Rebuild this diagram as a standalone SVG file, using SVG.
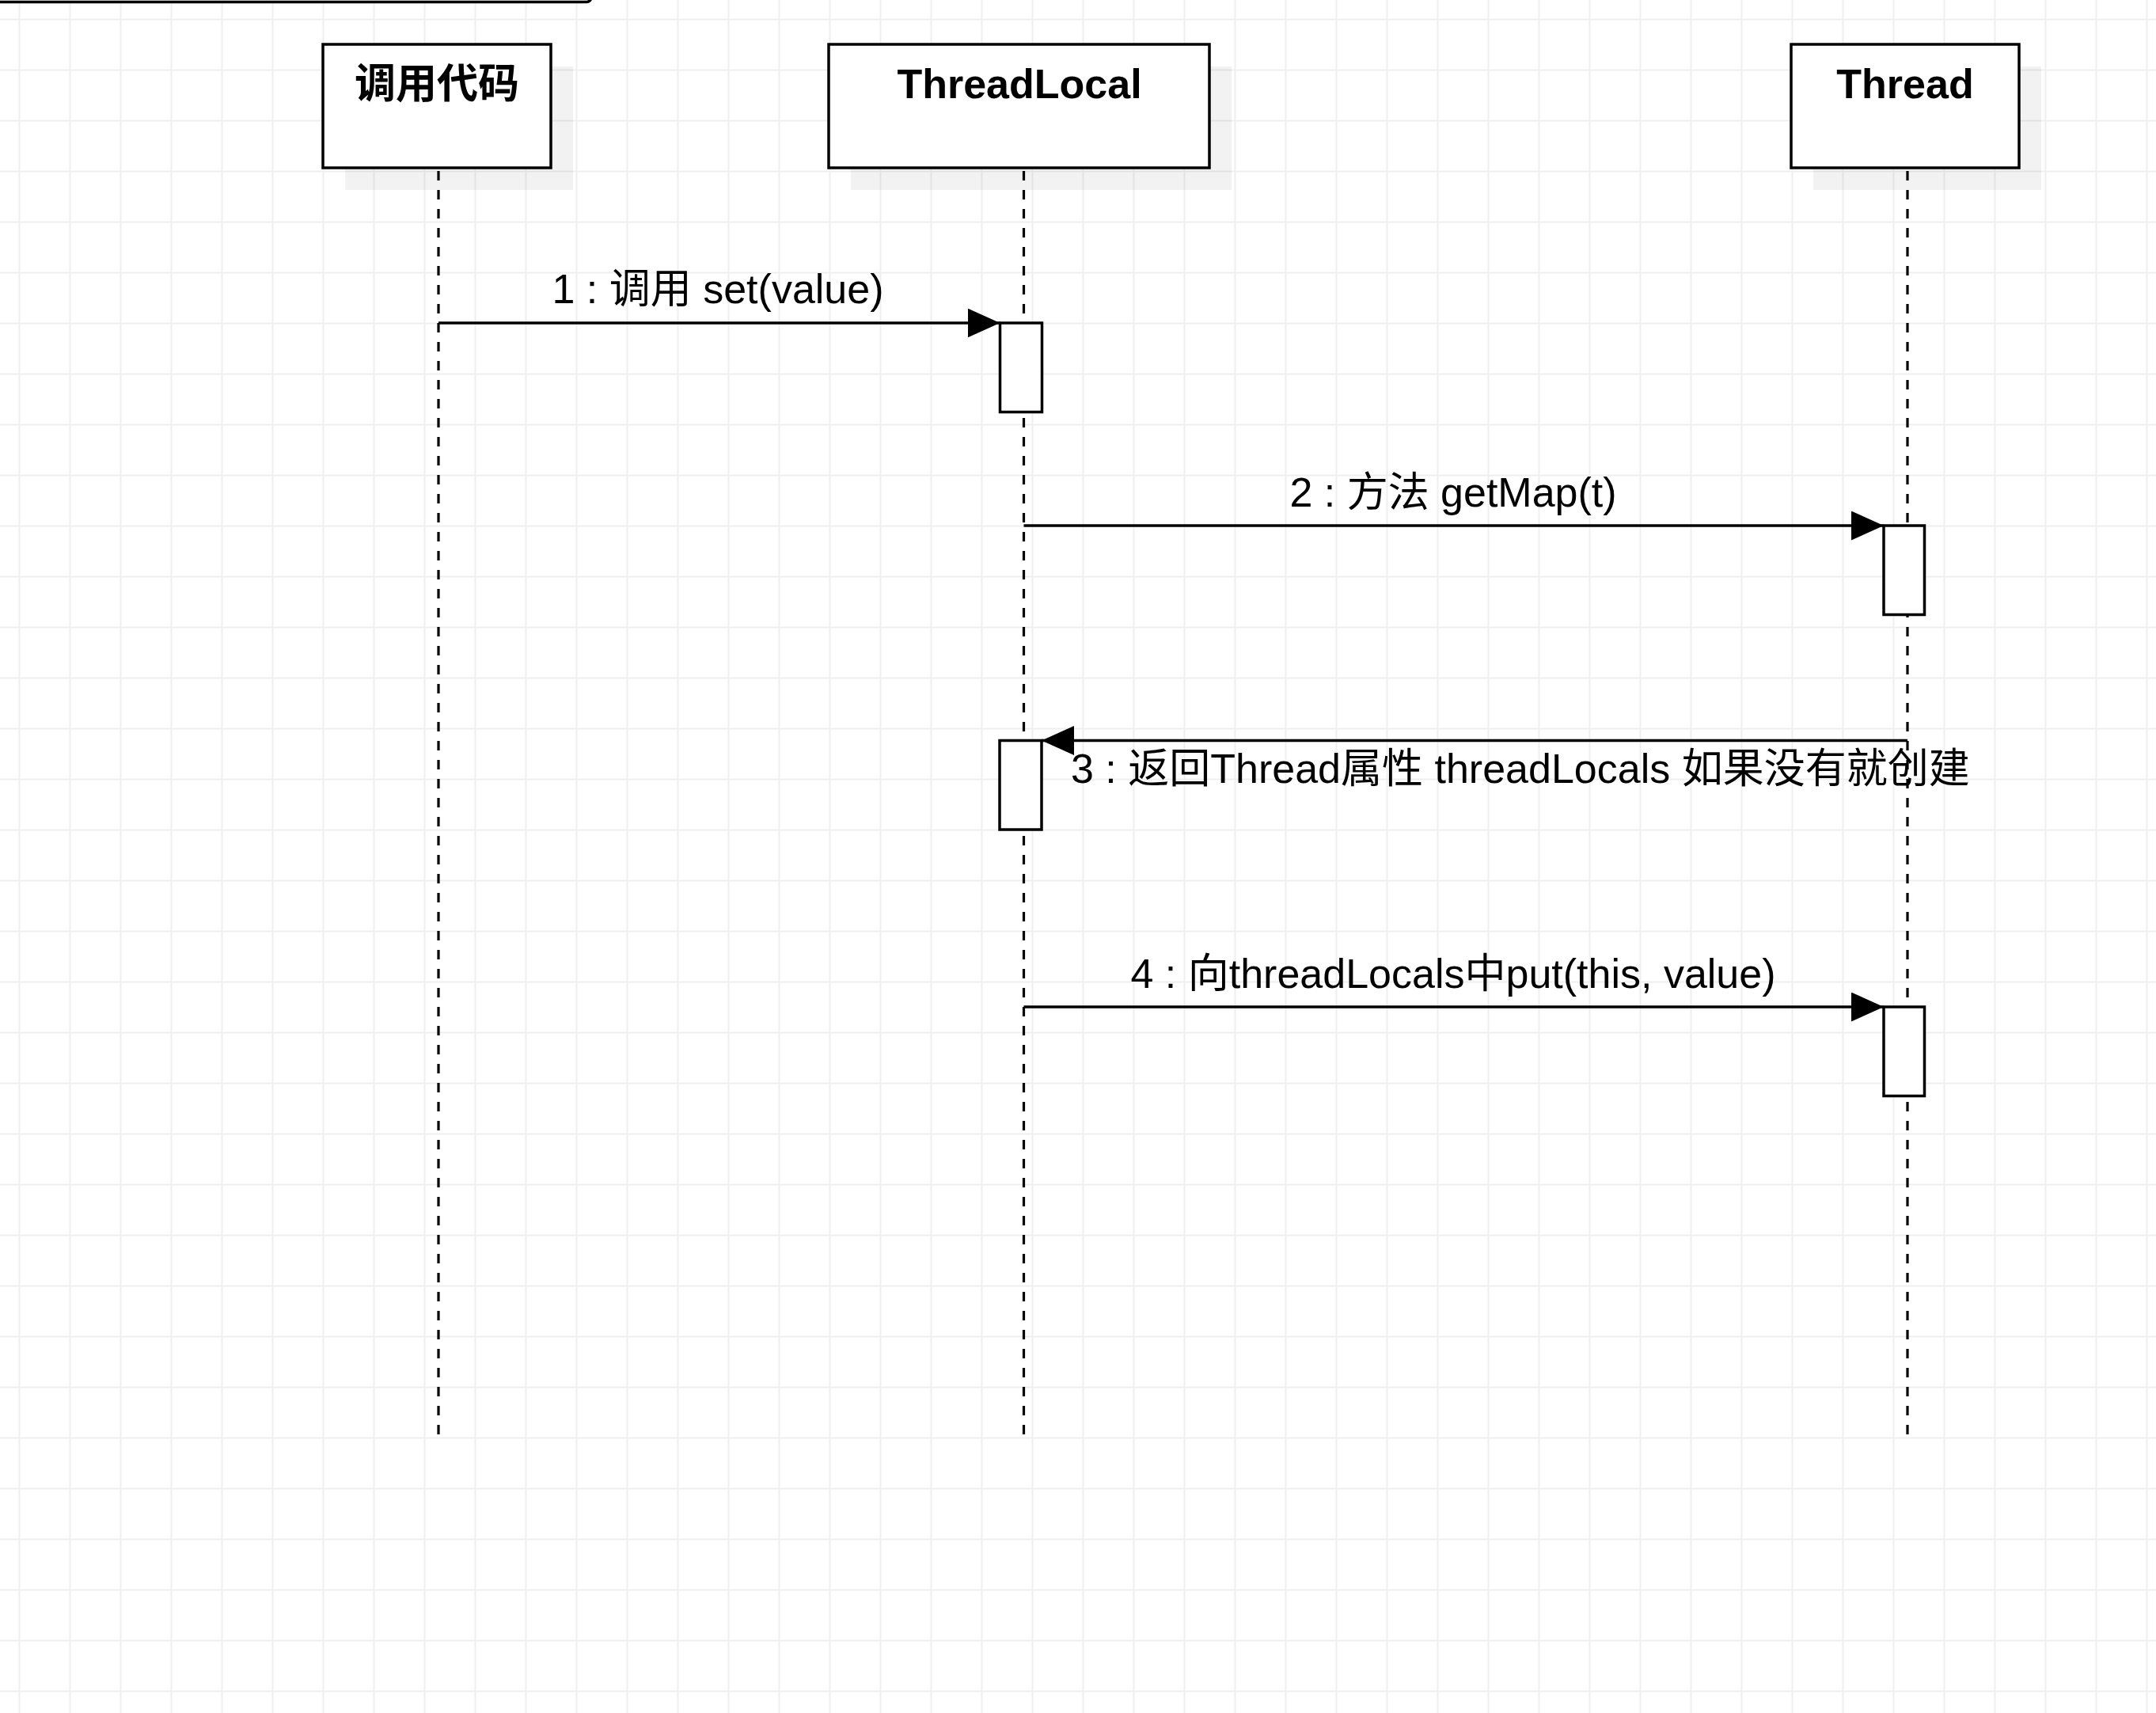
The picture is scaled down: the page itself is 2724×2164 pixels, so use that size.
<svg xmlns="http://www.w3.org/2000/svg" width="2724" height="2164" viewBox="0 0 2724 2164">
  <style>
    .box { fill: #ffffff; stroke: #000000; stroke-width: 3.5; }
    .shadow { fill: #000000; fill-opacity: 0.05; }
    .act { fill: #ffffff; stroke: #000000; stroke-width: 3.5; }
    .life { fill: none; stroke: #000000; stroke-width: 3.2; stroke-dasharray: 12 12; }
    .msg { fill: none; stroke: #000000; stroke-width: 3.5; marker-end: url(#block); }
    .title { font-family: "Liberation Sans", "Noto Sans CJK SC", sans-serif; font-size: 52px; font-weight: bold; fill: #000000; text-anchor: middle; }
    .label { font-family: "Liberation Sans", "Noto Sans CJK SC", sans-serif; font-size: 52px; fill: #000000; }
  </style>
  <defs>
    <pattern id="grid" patternUnits="userSpaceOnUse" x="-7.5" y="-7.5" width="64" height="64">
      <path d="M32 0 V64 M0 32 H64" stroke="#eeeeee" stroke-width="1.8" fill="none"/>
    </pattern>
    <marker id="block" markerUnits="userSpaceOnUse" markerWidth="42" markerHeight="38" refX="41" refY="18.5" orient="auto">
      <path d="M0 0 L41 18.5 L0 37 Z" fill="#000000"/>
    </marker>
  </defs>

  <rect x="0" y="0" width="2724" height="2164" fill="#ffffff"/>
  <rect x="0" y="0" width="2724" height="2164" fill="url(#grid)"/>

  <!-- partial frame at top-left -->
  <g id="frame">
    <rect x="-20" y="-200" width="767" height="202.5" rx="6" ry="6" class="box"/>
  </g>

  <!-- lifelines -->
  <g id="lifelines">
    <path class="life" d="M554 216 V1812"/>
    <path class="life" d="M1293.5 216 V1812"/>
    <path class="life" d="M2410 216 V1812"/>
  </g>

  <!-- participant nodes -->
  <g id="caller">
    <rect class="shadow" x="436" y="84" width="288" height="156"/>
    <rect class="box" x="408" y="56" width="288" height="156"/>
    <text class="title" x="552" y="124">调用代码</text>
  </g>
  <g id="threadlocal">
    <rect class="shadow" x="1075" y="84" width="481" height="156"/>
    <rect class="box" x="1047" y="56" width="481" height="156"/>
    <text class="title" x="1288" y="124">ThreadLocal</text>
  </g>
  <g id="thread">
    <rect class="shadow" x="2291" y="84" width="288" height="156"/>
    <rect class="box" x="2263" y="56" width="288" height="156"/>
    <text class="title" x="2407" y="124">Thread</text>
  </g>

  <!-- activation boxes -->
  <g id="act1"><rect class="act" x="1263.5" y="408" width="53" height="112.5"/></g>
  <g id="act2"><rect class="act" x="2380" y="664" width="51.5" height="112.5"/></g>
  <g id="act3"><rect class="act" x="1263" y="935.5" width="53" height="112.5"/></g>
  <g id="act4"><rect class="act" x="2380" y="1272" width="51.5" height="112.5"/></g>

  <!-- connectors -->
  <g id="connectors">
    <path class="msg" d="M554 408 H1263.5"/>
    <path class="msg" d="M1293.5 664 H2380"/>
    <path class="msg" d="M2410 935.5 H1316"/>
    <path class="msg" d="M1293.5 1272 H2380"/>
  </g>

  <!-- connector labels -->
  <g id="labels">
    <text class="label" x="907" y="383" text-anchor="middle">1 : 调用 set(value)</text>
    <text class="label" x="1836" y="640" text-anchor="middle">2 : 方法 getMap(t)</text>
    <text class="label" x="1353" y="989">3 : 返回Thread属性 threadLocals 如果没有就创建</text>
    <text class="label" x="1836" y="1248" text-anchor="middle">4 : 向threadLocals中put(this, value)</text>
  </g>
</svg>
